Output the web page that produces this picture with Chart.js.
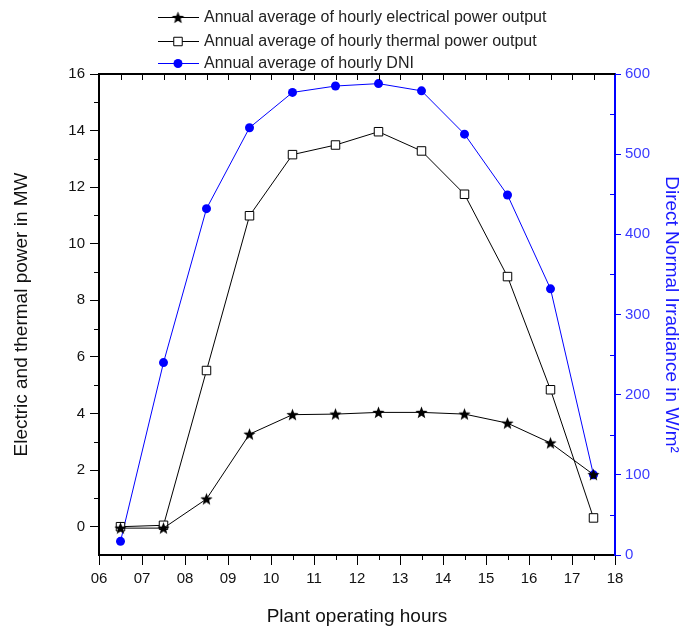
<!DOCTYPE html>
<html>
<head>
<meta charset="utf-8">
<script src="https://cdn.jsdelivr.net/npm/chart.js@4.4.0/dist/chart.umd.min.js"></script>
<style>
  body { margin: 0; background: #fff; }
</style>
</head>
<body>
<canvas id="myChart" width="683" height="632"></canvas>
<script>
// hours of the day (half-hour midpoints)
var hours = [6.5, 7.5, 8.5, 9.5, 10.5, 11.5, 12.5, 13.5, 14.5, 15.5, 16.5, 17.5];
// MW
var electrical = [-0.05, -0.05, 0.98, 3.27, 3.96, 3.98, 4.04, 4.04, 3.98, 3.66, 2.96, 1.84];
var thermal = [0.0, 0.05, 5.52, 10.99, 13.15, 13.49, 13.96, 13.28, 11.75, 8.84, 4.84, 0.31];
// W/m2
var dni = [17, 240, 432, 533, 577, 585, 588, 579, 525, 449, 332, 100];

var seriesNames = [
    'Annual average of hourly electrical power output',
    'Annual average of hourly thermal power output',
    'Annual average of hourly DNI'
];

var xTicks = [6, 7, 8, 9, 10, 11, 12, 13, 14, 15, 16, 17, 18];
var xTickLabels = ['06', '07', '08', '09', '10', '11', '12', '13', '14', '15', '16', '17', '18'];
var leftTicks = [0, 2, 4, 6, 8, 10, 12, 14, 16];
var rightTicks = [0, 100, 200, 300, 400, 500, 600];

var FONT = "Arial, 'Liberation Sans', sans-serif";
var BLUE = '#0000ff';

function toPoints(values){
    return hours.map((h, i) => ({x: h, y: values[i]}));
}

// filled five point star, chart.js 'star' is only an asterisk
function makeStar(r){
    var s = Math.ceil(r * 2) + 2;
    var c = document.createElement('canvas');
    c.width = s; c.height = s;
    var g = c.getContext('2d');
    g.beginPath();
    for(let i = 0; i < 10; i++){
        var rad = i % 2 === 0 ? r : r * 0.42;
        var ang = -Math.PI / 2 + i * Math.PI / 5;
        var px = s / 2 + rad * Math.cos(ang), py = s / 2 + rad * Math.sin(ang) + 0.5;
        if(i === 0) g.moveTo(px, py); else g.lineTo(px, py);
    }
    g.closePath();
    g.fillStyle = '#000';
    g.fill();
    return c;
}
var starImg = makeStar(6.5);

// minor ticks, top axis ticks, top border and the stacked legend
var extras = {
    id: 'extras',
    afterDraw(chart){
        var ctx = chart.ctx, a = chart.chartArea;
        var sx = chart.scales.x, sy = chart.scales.y, sy1 = chart.scales.y1;
        ctx.save();
        ctx.lineWidth = 1;
        ctx.strokeStyle = '#000';
        ctx.beginPath();
        // bottom minor ticks
        for(let h = 6.5; h < 18; h += 1){
            var px = Math.round(sx.getPixelForValue(h)) + 0.5;
            ctx.moveTo(px, a.bottom); ctx.lineTo(px, a.bottom + 5);
        }
        // top ticks pointing in
        for(let h = 6.5; h < 18; h += 0.5){
            var px2 = Math.round(sx.getPixelForValue(h)) + 0.5;
            ctx.moveTo(px2, a.top); ctx.lineTo(px2, a.top + 6);
        }
        // left minor ticks
        for(let v = 1; v < 16; v += 2){
            var py = Math.round(sy.getPixelForValue(v)) + 0.5;
            ctx.moveTo(a.left - 5, py); ctx.lineTo(a.left, py);
        }
        ctx.stroke();
        // top border
        ctx.lineWidth = 2;
        ctx.beginPath();
        ctx.moveTo(a.left - 1, a.top); ctx.lineTo(a.right, a.top);
        ctx.stroke();
        // right minor ticks
        ctx.lineWidth = 1;
        ctx.strokeStyle = BLUE;
        ctx.beginPath();
        for(let v = 50; v < 600; v += 100){
            var py2 = Math.round(sy1.getPixelForValue(v)) + 0.5;
            ctx.moveTo(a.right - 5, py2); ctx.lineTo(a.right, py2);
        }
        ctx.stroke();

        // legend
        var rows = [17, 41, 63];
        ctx.font = '16px ' + FONT;
        ctx.textBaseline = 'middle';
        chart.data.datasets.forEach(function(ds, i){
            var yy = rows[i];
            ctx.strokeStyle = ds.borderColor;
            ctx.lineWidth = 1;
            ctx.beginPath();
            ctx.moveTo(158, yy + 0.5); ctx.lineTo(199, yy + 0.5);
            ctx.stroke();
            ctx.fillStyle = ds.pointBackgroundColor;
            ctx.strokeStyle = ds.pointBorderColor;
            Chart.helpers.drawPoint(ctx, {
                pointStyle: ds.pointStyle, radius: ds.pointRadius,
                borderWidth: ds.pointBorderWidth, rotation: 0
            }, 178, yy + 0.5);
            ctx.fillStyle = '#222';
            ctx.fillText(ds.label, 204, yy + 1);
        });
        ctx.restore();
    }
};

var ctx = document.getElementById('myChart').getContext('2d');
var myChart = new Chart(ctx, {
    type: 'line',
    data: {
        datasets: [{
            label: seriesNames[0],
            data: toPoints(electrical),
            yAxisID: 'y',
            borderColor: '#000',
            borderWidth: 1,
            pointStyle: starImg,
            pointRadius: 6,
            pointBorderWidth: 1,
            pointBackgroundColor: '#000',
            pointBorderColor: '#000'
        }, {
            label: seriesNames[1],
            data: toPoints(thermal),
            yAxisID: 'y',
            borderColor: '#000',
            borderWidth: 1,
            pointStyle: 'rect',
            pointRadius: 6,
            pointBorderWidth: 1,
            pointBackgroundColor: '#fff',
            pointBorderColor: '#000'
        }, {
            label: seriesNames[2],
            data: toPoints(dni),
            yAxisID: 'y1',
            borderColor: BLUE,
            borderWidth: 1,
            pointStyle: 'circle',
            pointRadius: 4.5,
            pointBorderWidth: 0,
            pointBackgroundColor: BLUE,
            pointBorderColor: BLUE
        }]
    },
    options: {
        responsive: false,
        animation: false,
        layout: { padding: { top: 74, left: 0, right: 0, bottom: 0 } },
        plugins: {
            legend: { display: false },
            tooltip: { enabled: false }
        },
        elements: { line: { tension: 0 } },
        scales: {
            x: {
                type: 'linear',
                min: 6, max: 18,
                afterBuildTicks: s => { s.ticks = xTicks.map(v => ({value: v})); },
                afterFit: s => { s.height = 77; },
                grid: { drawOnChartArea: false, tickLength: 10, tickColor: '#000', tickWidth: 1 },
                border: { color: '#000', width: 2 },
                ticks: {
                    padding: 5, color: '#111', font: { family: FONT, size: 15 },
                    maxRotation: 0,
                    callback: v => xTickLabels[xTicks.indexOf(v)]
                },
                title: {
                    display: true, text: 'Plant operating hours', color: '#111',
                    font: { family: FONT, size: 19 }, padding: { top: 0, bottom: 4 }
                }
            },
            y: {
                type: 'linear', position: 'left',
                min: -1, max: 16,
                afterBuildTicks: s => { s.ticks = leftTicks.map(v => ({value: v})); },
                afterFit: s => { s.width = 99; },
                grid: { drawOnChartArea: false, tickLength: 9, tickColor: '#000', tickWidth: 1 },
                border: { color: '#000', width: 2 },
                ticks: { padding: 5, color: '#111', font: { family: FONT, size: 15 } },
                title: {
                    display: true, text: 'Electric and thermal power in MW', color: '#111',
                    font: { family: FONT, size: 19 }, padding: { top: 10, bottom: 0 }
                }
            },
            y1: {
                type: 'linear', position: 'right',
                min: 0, max: 600,
                afterBuildTicks: s => { s.ticks = rightTicks.map(v => ({value: v})); },
                afterFit: s => { s.width = 68; },
                grid: { drawOnChartArea: false, tickLength: 6, tickColor: BLUE, tickWidth: 1 },
                border: { color: BLUE, width: 2 },
                ticks: { padding: 4, color: '#3b3bff', font: { family: FONT, size: 15 } },
                title: {
                    display: true, text: 'Direct Normal Irradiance in W/m\u00b2', color: '#1a1aff',
                    font: { family: FONT, size: 19 }, padding: { top: 0, bottom: 0 }
                }
            }
        }
    },
    plugins: [extras]
});
</script>
</body>
</html>
